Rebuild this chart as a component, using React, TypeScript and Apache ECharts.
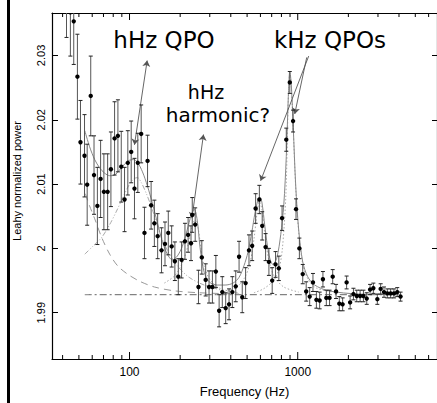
import React, { useEffect, useRef } from "react";
import * as echarts from "echarts";

// ---- observed power spectrum (frequency in Hz, Leahy power, 1-sigma error) ----
const FREQ = [
  42.2, 44.5, 46.6, 49.0, 51.1, 54.0, 56.0, 58.8, 61.5, 64.4, 67.3, 70.4, 74.1, 77.5, 81.5, 85.3, 89.3,
  93.4, 97.7, 102.3, 107, 112, 117.3, 122.7, 128, 134.4, 140.5, 147, 155, 162.5, 170, 178, 186, 195,
  204, 213.6, 223, 232, 236, 245.7, 257, 269, 283.6, 297, 311, 326, 341, 356, 373, 390.6, 408.6, 428,
  448, 468, 490, 513, 536, 562, 591.5, 615, 644, 674, 705, 738, 772, 807, 855, 897, 938, 977, 1023,
  1071, 1123, 1178, 1232, 1291, 1350, 1412, 1479, 1546, 1614, 1690, 1767, 1849, 1953, 2049, 2144,
  2243, 2349, 2458, 2572, 2692, 2816, 2974, 3112, 3258, 3409, 3567, 3733, 3906, 4086,
];
const POWER = [
  2.0398, 2.0367, 2.0353, 2.0267, 2.0165, 2.0144, 2.0099, 2.0237, 2.0114, 2.0066, 2.0108, 2.0088, 2.0088,
  2.0123, 2.0171, 2.0175, 2.0127, 2.0076, 2.0133, 2.015, 2.0093, 2.0133, 2.0178, 2.0024, 2.0136, 2.0067,
  2.0039, 2.0019, 1.9997, 2.0007, 2.0024, 2.0003, 1.998, 1.9956, 1.9982, 2.0011, 2.0021, 2.0008, 2.0052,
  2.0037, 1.994, 1.9986, 1.9951, 1.994, 1.994, 1.9964, 1.9903, 1.9932, 1.9907, 1.9913, 1.9932, 1.9941,
  1.9987, 1.9924, 1.9946, 1.9997, 2.0004, 2.0062, 2.0076, 2.0035, 2.0002, 1.9979, 1.995, 1.9975, 1.9969,
  2.0047, 2.0169, 2.0258, 2.0198, 2.0061, 2.0, 1.996, 1.9933, 1.9925, 1.9947, 1.992, 1.9919, 1.9952,
  1.9923, 1.9923, 1.9956, 1.9933, 1.9914, 1.9913, 1.9947, 1.9916, 1.9929, 1.9926, 1.9926, 1.9926, 1.9922,
  1.9936, 1.9938, 1.9921, 1.9937, 1.9932, 1.993, 1.993, 1.993, 1.9932, 1.9925,
];
const ERR = [
  0.007, 0.0068, 0.0067, 0.0066, 0.0065, 0.0064, 0.0063, 0.0062, 0.0061, 0.006, 0.006, 0.0059, 0.0059,
  0.0058, 0.0057, 0.0056, 0.0055, 0.005, 0.005, 0.0048, 0.0047, 0.0046, 0.0045, 0.004, 0.004, 0.0037,
  0.0036, 0.0035, 0.0035, 0.0034, 0.0034, 0.0032, 0.003, 0.0028, 0.0028, 0.0028, 0.0027, 0.0027, 0.0027,
  0.0026, 0.0026, 0.0026, 0.0025, 0.0025, 0.0025, 0.0025, 0.0025, 0.0024, 0.0024, 0.0024, 0.0024, 0.0024,
  0.0024, 0.0024, 0.0024, 0.0024, 0.0023, 0.0023, 0.0022, 0.0022, 0.0021, 0.0021, 0.002, 0.002, 0.0019,
  0.0019, 0.0018, 0.0017, 0.0017, 0.0016, 0.0016, 0.0015, 0.0015, 0.0014, 0.0014, 0.0013, 0.0013, 0.0012,
  0.0012, 0.0012, 0.0011, 0.0011, 0.0011, 0.001, 0.001, 0.001, 0.0009, 0.0009, 0.0009, 0.0009, 0.0009,
  0.0008, 0.0008, 0.0008, 0.0008, 0.0008, 0.0007, 0.0007, 0.0007, 0.0007, 0.0007,
];

// ---- fitted model and its components ----
const MODEL: number[][] = [
  [54.2, 2.0183], [57.9, 2.0158], [62.1, 2.0138], [66.5, 2.0125], [71.1, 2.0117], [76.2, 2.0113],
  [81.5, 2.0114], [87.3, 2.0122], [93.4, 2.0131], [100, 2.0137], [105.6, 2.0138], [111.5, 2.0134],
  [119.4, 2.0119], [127.8, 2.0097], [136.8, 2.007], [146.4, 2.004], [156.7, 2.0011], [167.8, 1.9991],
  [179.6, 1.9982], [192.3, 1.9988], [205.9, 2.0003], [220.4, 2.0029], [232.8, 2.0052], [242.4, 2.0061],
  [252.6, 2.0044], [263.2, 1.9999], [277.8, 1.9963], [297.4, 1.9948], [331.7, 1.9943], [370, 1.9943],
  [412.5, 1.9946], [448, 1.9955], [479, 1.9973], [506, 1.9994], [534, 2.0026], [557, 2.0055],
  [580, 2.0075], [596, 2.0079], [612, 2.0072], [638, 2.0034], [673, 1.9991], [711, 1.9975],
  [751, 1.9985], [793, 2.0022], [826, 2.0067], [855, 2.0143], [878.6, 2.0234], [897, 2.0275],
  [915, 2.0256], [940.6, 2.0188], [973, 2.0097], [1014, 2.0028], [1071, 1.9979], [1146, 1.9956],
  [1261, 1.9943], [1525, 1.9934], [2296, 1.9929], [4125, 1.9928],
];
const CONSTANT: number[][] = [[54.2, 1.9928], [4125, 1.9928]];
const LOW_FREQ_NOISE: number[][] = [
  [54.6, 2.0085], [57.9, 2.0066], [62.1, 2.0046], [68.3, 2.0017], [76.2, 1.9991], [84.9, 1.9973],
  [97.3, 1.996], [114.6, 1.9949], [140.5, 1.994], [184.8, 1.9934], [259.6, 1.9931], [448, 1.9929],
];
const HHZ_QPO: number[][] = [
  [54.2, 1.9991], [60.4, 2.0003], [68.3, 2.0017], [76.2, 2.0037], [83.7, 2.0058], [90.9, 2.0078],
  [98.6, 2.0097], [105.6, 2.0108], [111.5, 2.011], [117.7, 2.0102], [126, 2.0085], [136.8, 2.006],
  [150.5, 2.0026], [167.8, 1.9997], [192.3, 1.9973], [226, 1.9955], [277.8, 1.9943], [365, 1.9934],
];
const HHZ_HARMONIC: number[][] = [
  [161, 1.9946], [184.8, 1.9957], [202.7, 1.9973], [217.2, 1.9994], [229.6, 2.0022], [239, 2.004],
  [245.7, 2.0044], [256, 2.0031], [266.6, 1.9997], [281.5, 1.9967], [305.9, 1.9949], [350.6, 1.9937],
  [448, 1.9931],
];
const LOWER_KHZ: number[][] = [
  [365, 1.9932], [434.5, 1.994], [485, 1.9955], [519, 1.9976], [549, 2.0014], [573, 2.0055],
  [591.5, 2.0073], [612, 2.0061], [638, 2.0022], [673, 1.9982], [727, 1.9956], [826, 1.994],
  [1014, 1.9932],
];
const UPPER_KHZ: number[][] = [
  [549, 1.9931], [625, 1.9937], [711, 1.9949], [772, 1.9967], [810, 1.9999], [850, 2.0082],
  [878.6, 2.0231], [897, 2.0272], [915, 2.0252], [940.6, 2.0185], [973, 2.0094], [1014, 2.0025],
  [1071, 1.9976], [1146, 1.9953], [1296, 1.9938], [1748, 1.9931],
];

// ---- annotation arrows (data coordinates: [freq, power]) ----
const ARROW_HHZ_QPO = [[127.3, 2.0292], [107, 2.0161]];
const ARROW_HARMONIC = [[275.2, 2.0177], [235, 2.0047]];
const ARROW_KHZ_LOWER = [[1162, 2.0299], [601.7, 2.0105]];
const ARROW_KHZ_UPPER = [[1131, 2.0297], [959.8, 2.0209]];

// ---- axis ticks ----
const X_MAJOR_TICKS = [100, 1000];
const X_MINOR_TICKS = [40, 50, 60, 70, 80, 90, 200, 300, 400, 500, 600, 700, 800, 900, 2000, 3000, 4000, 5000, 6000];
const X_RANGE = [34.6, 6730];
const Y_RANGE = [1.9828, 2.0366];

const LABEL_FONT = "Liberation Sans";
const NOTE_FONT = "DejaVu Sans";

function buildOption() {
  const tickData = [
    ...X_MAJOR_TICKS.map((f) => [f, 2, 1]),
    ...X_MINOR_TICKS.map((f) => [f, 2, 0]),
  ];
  const pointData = FREQ.map((f, i) => [f, POWER[i], ERR[i]]);

  const compLine = (data: number[][], color: string, dash: number[] | string, width = 1) => ({
    type: "line",
    data,
    showSymbol: false,
    symbol: "none",
    smooth: 0.3,
    silent: true,
    lineStyle: { color, width, type: dash },
    z: 2,
  });

  const arrow = (pts: number[][], both: boolean) => [
    { coord: pts[0], symbol: both ? "arrow" : "none", symbolSize: 6 },
    { coord: pts[1], symbol: "arrow", symbolSize: 6 },
  ];

  const note = (text: string, x: number, y: number, size: number) => ({
    type: "text",
    x,
    y,
    style: { text, font: `${size}px "${NOTE_FONT}"`, fill: "#000", textAlign: "center", textVerticalAlign: "middle" },
  });

  return {
    animation: false,
    backgroundColor: "#fff",
    grid: { left: 52, top: 13, width: 387, height: 355, containLabel: false },
    xAxis: [
      {
        type: "log",
        logBase: 10,
        min: X_RANGE[0],
        max: X_RANGE[1],
        position: "bottom",
        axisLine: { show: true, lineStyle: { color: "#000", width: 1.2 } },
        axisTick: { show: false },
        minorTick: { show: false },
        splitLine: { show: false },
        axisLabel: {
          color: "#000",
          fontSize: 12,
          fontFamily: LABEL_FONT,
          margin: 7,
          showMinLabel: false,
          showMaxLabel: false,
          formatter: (v: number) => String(Math.round(v)),
        },
        name: "Frequency (Hz)",
        nameLocation: "middle",
        nameGap: 26,
        nameTextStyle: { color: "#000", fontSize: 13, fontFamily: LABEL_FONT },
      },
      {
        type: "log",
        logBase: 10,
        min: X_RANGE[0],
        max: X_RANGE[1],
        position: "top",
        axisLine: { show: true, lineStyle: { color: "#000", width: 1.2 } },
        axisTick: { show: false },
        axisLabel: { show: false },
        splitLine: { show: false },
      },
    ],
    yAxis: [
      {
        type: "value",
        min: Y_RANGE[0],
        max: Y_RANGE[1],
        position: "left",
        axisLine: { show: true, lineStyle: { color: "#000", width: 1.2 } },
        axisTick: { show: true, inside: true, length: 6, lineStyle: { color: "#000" } },
        splitLine: { show: false },
        axisLabel: {
          rotate: 90,
          color: "#000",
          fontSize: 11,
          fontFamily: LABEL_FONT,
          margin: 6,
          showMinLabel: false,
          showMaxLabel: false,
        },
        name: "Leahy normalized power",
        nameLocation: "middle",
        nameGap: 30,
        nameTextStyle: { color: "#000", fontSize: 11, fontFamily: LABEL_FONT, padding: [0, 0, 0, 10] },
      },
      {
        type: "value",
        min: Y_RANGE[0],
        max: Y_RANGE[1],
        position: "right",
        axisLine: { show: true, lineStyle: { color: "#000", width: 1.2 } },
        axisTick: { show: true, inside: true, length: 5, lineStyle: { color: "#000" } },
        axisLabel: { show: false },
        splitLine: { show: false },
      },
    ],
    graphic: [
      { type: "rect", shape: { x: 7, y: 0, width: 3, height: 403 }, style: { fill: "#000" } },
      note("hHz QPO", 164, 40, 23),
      note("kHz QPOs", 330, 40, 23),
      note("hHz", 206, 91.5, 19),
      note("harmonic?", 218, 115, 20),
    ],
    series: [
      {
        type: "custom",
        silent: true,
        xAxisIndex: 0,
        yAxisIndex: 0,
        data: tickData,
        encode: { x: 0, y: 1 },
        renderItem: (params: any, api: any) => {
          const cs = params.coordSys;
          const x = api.coord([api.value(0), api.value(1)])[0];
          const len = api.value(2) ? 7 : 4;
          const style = { stroke: "#000", lineWidth: 1 };
          return {
            type: "group",
            children: [
              { type: "line", shape: { x1: x, y1: cs.y + cs.height, x2: x, y2: cs.y + cs.height - len }, style },
              { type: "line", shape: { x1: x, y1: cs.y, x2: x, y2: cs.y + len }, style },
            ],
          };
        },
        z: 5,
      },
      compLine(CONSTANT, "#666", [7, 3, 2, 3]),
      compLine(LOW_FREQ_NOISE, "#999", [7, 5]),
      compLine(HHZ_QPO, "#aaa", [5, 2, 1, 2, 1, 2]),
      compLine(HHZ_HARMONIC, "#aaa", [1.5, 2]),
      compLine(LOWER_KHZ, "#aaa", [1.5, 2]),
      compLine(UPPER_KHZ, "#aaa", [1.5, 2]),
      {
        type: "line",
        data: MODEL,
        showSymbol: false,
        symbol: "none",
        smooth: 0.3,
        silent: true,
        lineStyle: { color: "#888", width: 1, type: "solid" },
        z: 3,
        markLine: {
          silent: true,
          animation: false,
          label: { show: false },
          lineStyle: { color: "#555", width: 0.9, type: "solid" },
          emphasis: { disabled: true },
          data: [
            arrow(ARROW_HHZ_QPO, true),
            arrow(ARROW_HARMONIC, true),
            arrow(ARROW_KHZ_LOWER, false),
            arrow(ARROW_KHZ_UPPER, false),
          ],
        },
      },
      {
        type: "custom",
        silent: true,
        clip: true,
        data: pointData,
        encode: { x: 0, y: 1 },
        renderItem: (_params: any, api: any) => {
          const f = api.value(0);
          const v = api.value(1);
          const e = api.value(2);
          const c = api.coord([f, v]);
          const t = api.coord([f, v + e]);
          const b = api.coord([f, v - e]);
          return {
            type: "group",
            children: [
              { type: "line", shape: { x1: c[0], y1: t[1], x2: c[0], y2: b[1] }, style: { stroke: "#555", lineWidth: 1 } },
              { type: "line", shape: { x1: c[0] - 2, y1: t[1], x2: c[0] + 2, y2: t[1] }, style: { stroke: "#222", lineWidth: 1 } },
              { type: "line", shape: { x1: c[0] - 2, y1: b[1], x2: c[0] + 2, y2: b[1] }, style: { stroke: "#222", lineWidth: 1 } },
              { type: "circle", shape: { cx: c[0], cy: c[1], r: 2.2 }, style: { fill: "#000" } },
            ],
          };
        },
        z: 10,
      },
    ],
  };
}

export default function App() {
  const ref = useRef<HTMLDivElement>(null);
  useEffect(() => {
    if (!ref.current) return;
    const chart = echarts.init(ref.current, undefined, { renderer: "svg" });
    chart.setOption(buildOption() as any);
    return () => chart.dispose();
  }, []);
  return (
    <div
      ref={ref}
      style={{ position: "absolute", left: 0, top: 0, width: 437, height: 403, background: "#fff" }}
    />
  );
}
